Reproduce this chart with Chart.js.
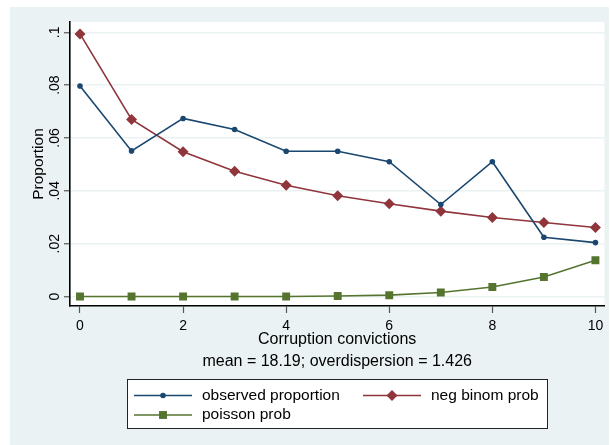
<!DOCTYPE html>
<html><head><meta charset="utf-8">
<script src="https://cdn.jsdelivr.net/npm/chart.js@4"></script>
<style>html,body{margin:0;padding:0;background:#fff;}canvas{display:block;}</style>
</head><body>
<canvas id="c" width="610" height="445"></canvas>
<script>
// ---- data ----
const convictions = [0, 1, 2, 3, 4, 5, 6, 7, 8, 9, 10];
const observedProportion = [0.0797, 0.0551, 0.0674, 0.0632, 0.0550, 0.0550, 0.0510, 0.0348, 0.0510, 0.0224, 0.0204];
const negBinomProb = [0.0994, 0.0670, 0.0548, 0.0474, 0.0421, 0.0381, 0.0351, 0.0323, 0.0299, 0.0280, 0.0261];
const poissonProb = [0, 0, 0, 0, 0, 0.0002, 0.0005, 0.0015, 0.0036, 0.0074, 0.0137];
const xTicks = [0, 2, 4, 6, 8, 10];
const yTicks = [0, 0.02, 0.04, 0.06, 0.08, 0.1];
const yTickLabels = ['0', '.02', '.04', '.06', '.08', '.1'];
const seriesLabels = ['observed proportion', 'neg binom prob', 'poisson prob'];
const xTitle = 'Corruption convictions';
const noteText = 'mean = 18.19; overdispersion = 1.426';
const yTitle = 'Proportion';

// ---- styles ----
const FONT = '"Liberation Sans", Arial, Helvetica, sans-serif';
const BG = '#EAF2F3';
const colors = ['#1A476F', '#90353B', '#55752F'];
const pointStyles = ['circle', 'rectRot', 'rect'];
const pointRadii = [2.8, 5.5, 5.6];

function toPoints(ys) { return convictions.map((x, i) => ({x: x, y: ys[i]})); }
const seriesValues = [observedProportion, negBinomProb, poissonProb];

const datasets = seriesValues.map((vals, i) => ({
  label: seriesLabels[i],
  data: toPoints(vals),
  borderColor: colors[i],
  backgroundColor: colors[i],
  pointBackgroundColor: colors[i],
  pointBorderColor: colors[i],
  pointBorderWidth: 0,
  pointStyle: pointStyles[i],
  pointRadius: pointRadii[i],
  borderWidth: 1.6,
  tension: 0,
  fill: false
}));

const bgPlugin = {
  id: 'bgPlugin',
  beforeDraw(chart) {
    const ctx = chart.ctx, a = chart.chartArea;
    ctx.save();
    ctx.fillStyle = '#fff';
    ctx.fillRect(0, 0, chart.width, chart.height);
    ctx.fillStyle = BG;
    ctx.fillRect(10, 7, 599, 438);
    ctx.fillStyle = '#fff';
    ctx.fillRect(a.left, a.top, a.right - a.left, a.bottom - a.top);
    ctx.restore();
  }
};

const legendPlugin = {
  id: 'stataLegend',
  afterDraw(chart) {
    const ctx = chart.ctx, a = chart.chartArea;
    const xs = chart.scales.x;
    const cx = (a.left + a.right) / 2;
    const w = 420, h = 49;
    const left = Math.round(cx - w / 2) + 0.5;
    const top = Math.round(xs.bottom + 3) + 0.5;
    ctx.save();
    ctx.fillStyle = '#fff';
    ctx.fillRect(left, top, w, h);
    ctx.strokeStyle = '#222';
    ctx.lineWidth = 1;
    ctx.strokeRect(left, top, w, h);
    const slots = [
      {x: left + 6.5, y: top + 16},
      {x: left + 235.5, y: top + 16},
      {x: left + 6.5, y: top + 35.5}
    ];
    ctx.font = '15.5px ' + FONT;
    ctx.textBaseline = 'middle';
    ctx.textAlign = 'left';
    chart.data.datasets.forEach((ds, i) => {
      const s = slots[i];
      ctx.strokeStyle = ds.borderColor;
      ctx.lineWidth = 1.6;
      ctx.beginPath();
      ctx.moveTo(s.x, s.y);
      ctx.lineTo(s.x + 58, s.y);
      ctx.stroke();
      ctx.fillStyle = ds.backgroundColor;
      ctx.strokeStyle = ds.borderColor;
      Chart.helpers.drawPoint(ctx, {pointStyle: ds.pointStyle, radius: ds.pointRadius, rotation: 0, borderWidth: 0}, s.x + 29, s.y);
      ctx.fillStyle = '#000';
      ctx.fillText(ds.label, s.x + 68, s.y);
    });
    ctx.restore();
  }
};

new Chart(document.getElementById('c'), {
  type: 'line',
  data: {datasets: datasets},
  plugins: [bgPlugin, legendPlugin],
  options: {
    responsive: false,
    animation: false,
    events: [],
    devicePixelRatio: 1,
    layout: {padding: {top: 22, right: 5, left: 0, bottom: 69}},
    plugins: {legend: {display: false}, tooltip: {enabled: false}, title: {display: false}},
    scales: {
      x: {
        type: 'linear',
        min: -0.194,
        max: 10.174,
        afterBuildTicks(scale) { scale.ticks = xTicks.map(v => ({value: v})); },
        afterFit(scale) { scale.height = 70; },
        ticks: {
          color: '#000',
          font: {family: FONT, size: 14},
          padding: 5,
          maxRotation: 0,
          autoSkip: false,
          callback: (v) => String(v)
        },
        grid: {drawOnChartArea: false, drawTicks: true, tickLength: 7, tickColor: '#555', tickWidth: 1.2},
        border: {display: true, color: '#000', width: 1.6},
        title: {
          display: true,
          text: [xTitle, noteText],
          color: '#000',
          font: {family: FONT, size: 16, lineHeight: 22 / 16},
          padding: {top: 0, bottom: 3.2}
        }
      },
      y: {
        type: 'linear',
        min: -0.0036,
        max: 0.1039,
        afterBuildTicks(scale) { scale.ticks = yTicks.map(v => ({value: v})); },
        afterFit(scale) { scale.width = 70; },
        ticks: {
          color: '#000',
          font: {family: FONT, size: 14},
          padding: -0.5,
          minRotation: 90,
          maxRotation: 90,
          crossAlign: 'center',
          autoSkip: false,
          callback: (v, i) => yTickLabels[i]
        },
        grid: {color: BG, lineWidth: 1.5, drawTicks: true, tickLength: 6, tickColor: '#555', tickWidth: 1.2},
        border: {display: true, color: '#000', width: 1.6},
        title: {
          display: true,
          text: yTitle,
          color: '#000',
          font: {family: FONT, size: 15.5},
          padding: {top: 29.7, bottom: 0}
        }
      }
    }
  }
});
</script>
</body></html>
